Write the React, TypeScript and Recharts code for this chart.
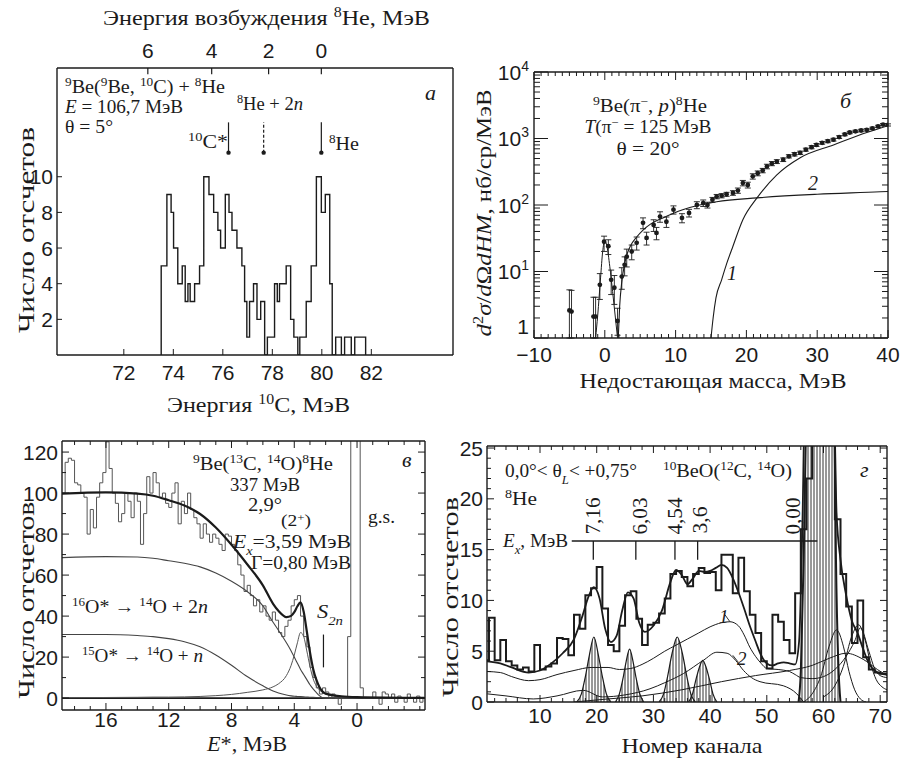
import React from "react";
import {
  ComposedChart,
  Line,
  Area,
  Scatter,
  XAxis,
  YAxis,
  ReferenceLine,
  ErrorBar,
  ReferenceDot,
} from "recharts";

// serif faces may be missing; Liberation Sans keeps widths close to Times
const SERIF = '"Liberation Serif", "Liberation Sans", Arial, sans-serif';
const SANS = '"Liberation Sans", Arial, "DejaVu Sans", sans-serif';
const INK = "#1b1b1b";
const PAGE_W = 900;
const PAGE_H = 762;

// ---------- panel а: 9Be(9Be,10C)8He ----------
const aEdges = [
  73.51, 73.74, 73.91, 74.01, 74.18, 74.36, 74.48, 74.59, 74.68, 74.86, 75.06,
  75.23, 75.44, 75.63, 75.8, 75.91, 76.1, 76.25, 76.37, 76.57, 76.77, 76.88,
  76.97, 77.08, 77.24, 77.38, 77.53, 77.69, 77.8, 78.09, 78.2, 78.29, 78.56,
  78.74, 78.87, 79.03, 79.11, 79.37, 79.57, 79.78, 79.98, 80.14, 80.32, 80.42,
  80.56, 80.79, 80.92, 81.19, 81.33, 81.77,
];
const aCounts = [
  5, 9, 8, 6, 4, 5, 3, 4, 3, 4, 5, 10, 9, 8, 7, 6, 9, 8, 7, 6, 5, 3, 1, 3, 4, 2,
  3, 0, 1, 4, 3, 4, 5, 2, 1, 0, 1, 3, 5, 10, 8, 9, 4, 0, 1, 0, 1, 0, 1, 0,
];
const aBottomTicks = [72, 74, 76, 78, 80, 82];
const aLeftTicks = [2, 4, 6, 8, 10];
// excitation-energy scale sits on the 10C energy scale
const aTopPos = [72.97, 75.55, 77.85, 79.98];
const aTopLabels = ["6", "4", "2", "0"];
const aMarkers = [
  { x: 76.23, dashed: false },
  { x: 77.65, dashed: true },
  { x: 79.98, dashed: false },
];

// ---------- panel б: 9Be(pi-,p)8He ----------
// x, y, lower error, upper error
const bPoints = [
  [-5.0, 2.6, 1.6, 2.7], [-4.7, 2.5, 1.5, 2.7], [-1.6, 2.1, 1.1, 2.0],
  [-1.3, 2.1, 1.1, 2.0], [-0.7, 6.3, 2.5, 3.0], [-0.1, 28, 8, 6],
  [0.5, 24, 6, 6], [0.9, 7.5, 3, 3], [1.35, 5.7, 2.5, 3], [1.8, 1.8, 0.7, 1.0],
  [2.4, 8.4, 3, 3], [2.8, 12.6, 4, 4], [3.1, 16.7, 5, 5], [3.8, 20, 5, 5],
  [4.5, 27, 6, 6], [5.4, 54, 10, 10], [5.9, 32, 7, 7], [6.9, 50, 10, 10],
  [7.3, 38, 8, 8], [7.8, 67, 12, 12], [8.7, 56, 10, 10], [9.7, 85, 12, 12],
  [10.9, 64, 10, 10], [11.9, 76, 10, 10], [13.0, 100, 12, 12],
  [13.9, 107, 12, 12], [14.5, 100, 10, 10], [15.2, 120, 10, 10],
  [15.8, 134, 10, 10], [16.5, 138, 10, 10], [17.2, 145, 10, 10],
  [18.1, 152, 12, 12], [18.8, 165, 15, 15], [19.5, 214, 20, 20],
  [20.2, 200, 20, 20], [20.9, 270, 25, 25], [21.6, 300, 25, 25],
  [22.3, 330, 25, 25], [22.9, 380, 30, 30], [23.6, 420, 30, 30],
  [24.3, 450, 30, 30], [25.2, 480, 30, 30], [26.0, 540, 30, 30],
  [26.8, 580, 35, 35], [27.6, 610, 35, 35], [28.4, 680, 35, 35],
  [29.2, 740, 40, 40], [29.9, 800, 40, 40], [30.7, 860, 40, 40],
  [31.5, 910, 45, 45], [32.3, 960, 45, 45], [33.1, 1050, 50, 50],
  [33.9, 1150, 50, 50], [34.6, 1230, 50, 50], [35.4, 1280, 50, 50],
  [36.2, 1320, 55, 55], [37.0, 1350, 55, 55], [37.8, 1420, 60, 60],
  [38.6, 1520, 60, 60], [39.3, 1620, 60, 60], [40.0, 1600, 60, 60],
];
const bPeakFit = [
  [-1.3, 1], [-1.0, 2.2], [-0.6, 8], [-0.3, 20], [0.0, 29], [0.3, 24],
  [0.7, 12], [1.1, 5], [1.5, 2], [1.8, 1],
];
const bCurve2 = [
  [1.9, 1], [2.1, 3], [2.4, 7], [2.8, 13], [3.2, 19], [3.6, 24], [4.5, 33],
  [5.4, 42], [6.5, 52], [8.2, 64], [11, 85], [13.4, 100], [15.8, 112],
  [21.5, 128], [30, 145], [38.9, 158], [40, 160],
];
const bCurve1 = [
  [15, 1], [15.3, 2], [15.7, 4], [16.5, 7.5], [17.2, 13], [18.1, 24],
  [19.5, 60], [21.5, 128], [24.3, 284], [27.6, 514], [32.3, 800], [37, 1230],
  [40, 1560],
];
const bDecades = [1, 10, 100, 1000, 10000];
const bMajorX = [-10, 0, 10, 20, 30, 40];

// ---------- panel в: 9Be(13C,14O)8He ----------
const cBinStart = 18.8;
const cBinWidth = 0.2;
const cCounts = [
  100, 115, 117, 116,
  105, 104, 100, 98, 80,
  92, 83, 98, 105, 110,
  125, 112, 100, 95, 86,
  90, 100, 96, 88, 100,
  96, 75, 90, 108, 100,
  110, 105, 98, 100, 95,
  93, 100, 105, 85, 96,
  90, 100, 92, 88, 85,
  78, 85, 80, 76, 80,
  78, 75, 72, 80, 79,
  75, 72, 65, 60, 52,
  55, 50, 45, 48, 42,
  45, 40, 38, 42, 38,
  32, 30, 35, 38, 45,
  48, 50, 40, 30, 25,
  15, 10, 5, 2, 5,
  3, 0, 2, 0, -3,
  0, 0, 30, 160, 160,
  160, 5, 0, 0, 0,
  3, 0, -3, 3, 2,
  0, 2, -2, 1, 0,
  -2, 2, 0, -2, 1, -2, 0,
];
const cGrid = [
  18.8, 16, 14, 13, 12, 11, 10, 9, 8, 7, 6, 5.35, 5, 4.5, 4.2, 4, 3.8, 3.6,
  3.4, 3.2, 3, 2.8, 2.6, 2.4, 2.2, 2, 1, 0, -4.3,
];
const cTwoN = [
  68.5, 69, 68.8, 68.2, 67, 65.8, 64, 61, 57, 52, 45, 37, 33, 27, 23, 20, 17,
  14, 11.5, 9, 6.5, 4.5, 2.8, 1.2, 0.2, 0, 0, 0, 0,
];
const cOneN = [
  31, 31, 30.5, 30, 29, 27.5, 25, 21, 16, 10.5, 6, 3.5, 2.5, 1.5, 1.1, 0.9, 0.8,
  0.7, 0.6, 0.5, 0.4, 0.35, 0.3, 0.25, 0.2, 0.2, 0.1, 0.1, 0,
];
const cState = [
  0.2, 0.3, 0.4, 0.5, 0.5, 0.6, 0.8, 1.2, 1.8, 2.8, 4, 5.5, 7, 11, 16, 21, 27,
  32, 30, 23, 15.5, 9.5, 6, 4, 2.8, 2, 0.8, 0.4, 0.1,
];
const cTotal = [
  99.7, 100.3, 99.7, 98.7, 96.5, 93.9, 89.8, 83.2, 74.8, 65.3, 55, 46, 42.5,
  39.5, 40.1, 41.9, 44.8, 46.7, 42.1, 32.5, 22.4, 14.35, 9.1, 5.45, 3.2, 2.2,
  0.9, 0.5, 0.1,
];
const cS2n = 2.14;
const cMajorX = [16, 12, 8, 4, 0];
const cMajorY = [0, 20, 40, 60, 80, 100, 120];

// ---------- panel г: 10BeO(12C,14O) ----------
const dCounts = [
  4.1, 8.3, 4.1, 6.1, 4.0, 3.6, 3.2, 3.4, 3.0, 5.6, 3.2, 3.5, 3.8, 6.3, 6.2,
  4.6, 8.6, 7.2, 10.5, 11.2, 13.3, 9.2, 5.6, 5.0, 7.5, 10.5, 10.9, 8.2, 5.6,
  7.6, 7.8, 8.7, 10.2, 12.6, 12.9, 12.3, 11.4, 12.6, 13.2, 12.7, 12.8, 11.0,
  14.5, 14.5, 10.7, 14.2, 10.9, 8.6, 6.8, 4.0, 3.3, 8.6, 7.9, 6.1, 4.8, 10.7,
  17, 22, 40, 40, 40, 40, 18, 12.6, 9.4, 5.8, 10, 4.4, 3.2, 2.9, 2.8,
];
const dTotal = [
  [0.7, 4.0], [3, 3.8], [5, 3.4], [8, 2.9], [10, 3.1], [12, 3.8], [14, 4.8],
  [16, 6.2], [17.5, 8.5], [18.5, 10.3], [19.5, 11.3], [20.5, 10.2],
  [21.5, 7.2], [22.5, 5.9], [23.5, 6.5], [24.5, 9], [25.5, 10.8],
  [26.5, 10.2], [27.5, 7.8], [28.5, 6.9], [30, 7.5], [31.5, 9], [33, 11.8],
  [34, 13], [35, 12.5], [36, 11.6], [37, 12.2], [38, 12.9], [39, 12.8],
  [40, 12.9], [41, 13.2], [42, 13.5], [43, 13.2], [44, 12.2], [45, 10.8],
  [46, 9.2], [47, 7.5], [48, 6], [49, 4.6], [50, 3.8], [51, 3.6], [52, 3.8],
  [53, 3.9], [54, 3.8], [55, 3.7], [55.7, 6], [56.3, 18], [56.8, 32],
  [61.8, 30], [62.3, 18.6], [63, 14], [64, 10.5], [65, 8], [66, 6.8],
  [67, 5.2], [68, 3.8], [69, 3.1], [70, 2.8], [71.2, 2.7],
];
const dCurve1 = [
  [0.7, 3.0], [3, 2.9], [5, 2.5], [8, 2.1], [10, 2.2], [13, 2.7], [16, 3.1],
  [19, 3.4], [22, 3.4], [24, 3.2], [26, 3.3], [28, 3.7], [30, 4.3], [32, 5.0],
  [34, 5.6], [36, 6.2], [38, 6.8], [40, 7.4], [42, 7.8], [43.5, 7.9],
  [45, 7.5], [46, 6.6], [47, 5.4], [48, 4.5], [49, 3.8], [50, 3.3], [52, 3.2],
  [54, 3.0], [55, 2.7], [56, 2.4], [58, 2.3], [60, 2.5], [62, 3.2], [64, 4.5],
  [65.5, 6], [66.5, 7.3], [68, 5], [69, 3.3], [70, 2.6], [71.2, 2.4],
];
const dCurve2 = [
  [0.7, 0.8], [4, 0.6], [8.8, 0.3], [13, 0.6], [17.6, 1.15], [21, 0.5],
  [25, 0.7], [29.4, 1.3], [32, 1.9], [35.3, 2.8], [38.8, 4.1], [41.2, 4.9],
  [43, 4.8], [44.5, 4.1], [45.9, 3.1], [47.3, 2.4], [48.8, 2.0], [52.9, 1.6],
  [55.3, 0.8], [56.5, 0],
];
const dBackground = [
  [16, 0], [22, 0.3], [28, 0.6], [35, 1.2], [42, 2.0], [48, 2.6], [54, 3.1],
  [58, 3.6], [61, 4.3], [64, 4.8], [67, 4.2], [69.5, 3.2], [71.2, 2.6],
];
const dRight1 = [
  [56.5, 0], [58, 0.8], [59.5, 2.5], [61, 5.5], [62.3, 7.1], [63.5, 5.5],
  [64.5, 3], [65.5, 1.2], [66.5, 0.3], [67.5, 0],
];
const dRight2 = [
  [60, 0.5], [62, 1.6], [63.5, 3.5], [65, 6.5], [66.2, 7.6], [67.3, 6.2],
  [68.3, 3.8], [69.3, 2.2], [70.3, 1.5], [71.2, 1.2],
];
const dStates = [
  [[16.5, 0], [17.3, 0.8], [18, 2.5], [18.7, 4.6], [19.5, 6.4], [20.3, 4.6], [21, 2.5], [21.7, 0.8], [22.5, 0]],
  [[23.3, 0], [24, 0.8], [24.7, 2.5], [25.2, 4], [25.8, 5.2], [26.4, 4], [26.9, 2.5], [27.6, 0.8], [28.3, 0]],
  [[31, 0], [31.8, 0.8], [32.5, 2.5], [33.3, 4.8], [34.2, 6.4], [35.1, 4.8], [35.9, 2.5], [36.6, 0.8], [37.4, 0]],
  [[36.2, 0], [36.9, 0.8], [37.5, 2.2], [38.1, 3.4], [38.7, 4.1], [39.3, 3.4], [39.9, 2.2], [40.5, 0.8], [41.2, 0]],
];
const dGround = [
  [55.6, 0], [56, 3], [56.5, 14], [57, 30], [58, 70], [59, 95], [59.8, 100],
  [60.6, 95], [61.3, 70], [61.8, 35], [62.2, 14], [62.6, 4], [63, 0],
];
// excitation-energy scale drawn across the spectrum
const dExLine = { from: 15.6, to: 58.9, level: 15.85, tickEnd: 14.0 };
const dExTicks = [19.4, 26.9, 33.8, 37.8];

// ---------- plot boxes (page pixels) ----------
const A_BOX = { left: 57, top: 68, right: 453, bottom: 355 };
const B_BOX = { left: 534, top: 72, right: 888, bottom: 338 };
const C_BOX = { left: 62, top: 441, right: 425, bottom: 710 };
const D_BOX = { left: 487, top: 446, right: 887, bottom: 702 };

// every axis is 1px thick, so the margins leave exactly the box for the plot
const boxMargin = (b: typeof A_BOX) => ({
  left: b.left - 1,
  top: b.top - 1,
  right: PAGE_W - b.right - 1,
  bottom: PAGE_H - b.bottom - 1,
});

const pts = (arr: number[][]) => arr.map(([x, y]) => ({ x, y }));
const range = (from: number, to: number, step: number) => {
  const out: number[] = [];
  for (let v = from; v <= to + 1e-9; v += step) out.push(Math.round(v * 1000) / 1000);
  return out;
};
const logTicks = () => {
  const out: number[] = [];
  for (let d = 0; d < 4; d++) for (let k = 1; k < 10; k++) out.push(k * 10 ** d);
  out.push(10000);
  return out;
};

type Side = "bottom" | "left";
interface TickSpec {
  side: Side;
  edge: number;
  mirror?: number; // opposite frame edge that gets the same tick
  major: number[];
  majorLen: number;
  minorLen: number;
  gap?: number;
  label?: (v: number) => React.ReactNode;
}

const sansStyle: React.CSSProperties = { fontFamily: SANS, fontSize: 21 };

// inward tick marks (also copied onto the opposite edge) with labels outside the frame
function frameTick(spec: TickSpec) {
  return (props: any) => {
    const v = props.payload?.value;
    const isMajor = spec.major.some((m) => Math.abs(m - v) < 1e-6);
    const len = isMajor ? spec.majorLen : spec.minorLen;
    const text = isMajor && spec.label ? spec.label(v) : null;
    const gap = spec.gap ?? 5;
    if (spec.side === "bottom") {
      const x = props.x;
      return (
        <g>
          <line x1={x} x2={x} y1={spec.edge} y2={spec.edge - len} stroke={INK} strokeWidth={1} />
          {spec.mirror != null && (
            <line x1={x} x2={x} y1={spec.mirror} y2={spec.mirror + len} stroke={INK} strokeWidth={1} />
          )}
          {text != null && (
            <text x={x} y={spec.edge + gap} textAnchor="middle" style={sansStyle} fill={INK}>
              {text}
            </text>
          )}
        </g>
      );
    }
    const y = props.y;
    return (
      <g>
        <line x1={spec.edge} x2={spec.edge + len} y1={y} y2={y} stroke={INK} strokeWidth={1} />
        {spec.mirror != null && (
          <line x1={spec.mirror} x2={spec.mirror - len} y1={y} y2={y} stroke={INK} strokeWidth={1} />
        )}
        {text != null && (
          <text x={spec.edge - gap} y={y} dy="0.36em" textAnchor="end" style={sansStyle} fill={INK}>
            {text}
          </text>
        )}
      </g>
    );
  };
}

const frameLine = { stroke: INK, strokeWidth: 1.4 };

function PanelA() {
  const hist = [{ x: aEdges[0], y: 0 }, ...aEdges.map((x, i) => ({ x, y: aCounts[i] }))];
  const dom: [number, number] = [69.3, 85.3];
  const ydom: [number, number] = [0, 16.1];
  return (
    <ComposedChart width={PAGE_W} height={PAGE_H} margin={boxMargin(A_BOX)}>
      <XAxis
        type="number" dataKey="x" domain={dom} allowDataOverflow height={1}
        ticks={aBottomTicks} interval={0} tickLine={false} axisLine={frameLine}
        tick={frameTick({ side: "bottom", edge: A_BOX.bottom, major: aBottomTicks, majorLen: 6, minorLen: 3, gap: 25, label: (v) => String(v) })}
      />
      <XAxis xAxisId="t" orientation="top" type="number" domain={dom} height={1} tick={false} tickLine={false} axisLine={frameLine} />
      <YAxis
        type="number" dataKey="y" domain={ydom} allowDataOverflow width={1}
        ticks={aLeftTicks} interval={0} tickLine={false} axisLine={frameLine}
        tick={frameTick({ side: "left", edge: A_BOX.left, major: aLeftTicks, majorLen: 5, minorLen: 3, gap: 4, label: (v) => String(v) })}
      />
      <YAxis yAxisId="r" orientation="right" type="number" domain={ydom} width={1} tick={false} tickLine={false} axisLine={frameLine} />
      <Line data={hist} dataKey="y" type="stepAfter" stroke={INK} strokeWidth={1.4} dot={false} isAnimationActive={false} />
      {/* excitation-energy scale along the top edge */}
      {aTopPos.map((p, i) => (
        <ReferenceLine
          key={"top" + p}
          segment={[{ x: p, y: 16.1 }, { x: p, y: 15.75 }]}
          stroke={INK}
          strokeWidth={1.2}
          label={{
            content: (lp: any) => {
              const vb = lp.viewBox || {};
              const cx = (vb.x ?? 0) + (vb.width ?? 0) / 2;
              return (
                <text x={cx} y={A_BOX.top - 10} textAnchor="middle" style={sansStyle} fill={INK}>
                  {aTopLabels[i]}
                </text>
              );
            },
          }}
        />
      ))}
      {aMarkers.map((m) => (
        <ReferenceLine
          key={m.x}
          segment={[{ x: m.x, y: 11.35 }, { x: m.x, y: 13.05 }]}
          stroke={INK}
          strokeWidth={1.2}
          strokeDasharray={m.dashed ? "3 2" : undefined}
        />
      ))}
      {aMarkers.map((m) => (
        <ReferenceDot key={"d" + m.x} x={m.x} y={11.35} r={2.2} fill={INK} stroke="none" />
      ))}
    </ComposedChart>
  );
}

function PanelB() {
  const data = bPoints.map(([x, y, lo, hi]) => ({ x, y, err: [lo, hi] }));
  const dom: [number, number] = [-10, 40];
  const ydom: [number, number] = [1, 10000];
  const xt = range(-10, 40, 1);
  const yt = logTicks();
  const decade = (v: number) =>
    v === 1 ? (
      <tspan dy={-4}>1</tspan>
    ) : (
      <>
        10<tspan dy={-9} fontSize={14}>{Math.round(Math.log10(v))}</tspan>
      </>
    );
  return (
    <ComposedChart width={PAGE_W} height={PAGE_H} margin={boxMargin(B_BOX)}>
      <XAxis
        type="number" dataKey="x" domain={dom} allowDataOverflow height={1}
        ticks={xt} interval={0} tickLine={false} axisLine={frameLine}
        tick={frameTick({ side: "bottom", edge: B_BOX.bottom, mirror: B_BOX.top, major: bMajorX, majorLen: 8, minorLen: 4, gap: 24, label: (v) => (v < 0 ? "\u2212" + Math.abs(v) : String(v)) })}
      />
      <XAxis xAxisId="t" orientation="top" type="number" domain={dom} height={1} tick={false} tickLine={false} axisLine={frameLine} />
      <YAxis
        type="number" dataKey="y" scale="log" domain={ydom} allowDataOverflow width={1}
        ticks={yt} interval={0} tickLine={false} axisLine={frameLine}
        tick={frameTick({ side: "left", edge: B_BOX.left, mirror: B_BOX.right, major: bDecades, majorLen: 14, minorLen: 6, gap: 5, label: decade })}
      />
      <YAxis yAxisId="r" orientation="right" type="number" scale="log" domain={ydom} width={1} tick={false} tickLine={false} axisLine={frameLine} />
      <Line data={pts(bPeakFit)} dataKey="y" type="monotone" stroke={INK} strokeWidth={1} dot={false} isAnimationActive={false} />
      <Line data={pts(bCurve2)} dataKey="y" type="monotone" stroke={INK} strokeWidth={1.1} dot={false} isAnimationActive={false} />
      <Line data={pts(bCurve1)} dataKey="y" type="monotone" stroke={INK} strokeWidth={1.1} dot={false} isAnimationActive={false} />
      <Scatter
        data={data}
        dataKey="y"
        isAnimationActive={false}
        shape={(p: any) => <circle cx={p.cx} cy={p.cy} r={2.4} fill={INK} />}
      >
        <ErrorBar dataKey="err" direction="y" width={3} stroke={INK} strokeWidth={0.9} isAnimationActive={false} />
      </Scatter>
    </ComposedChart>
  );
}

function PanelC() {
  const hist = cCounts.map((y, i) => ({ x: cBinStart - i * cBinWidth, y }));
  hist.push({ x: cBinStart - cCounts.length * cBinWidth, y: cCounts[cCounts.length - 1] });
  const curve = (vals: number[]) => cGrid.map((x, i) => ({ x, y: vals[i] }));
  const dom: [number, number] = [-4.33, 18.8];
  const ydom: [number, number] = [-5.8, 125.4];
  const xt = range(-4, 18, 1);
  const yt = range(0, 120, 10);
  return (
    <ComposedChart width={PAGE_W} height={PAGE_H} margin={boxMargin(C_BOX)}>
      <XAxis
        type="number" dataKey="x" domain={dom} reversed allowDataOverflow height={1}
        ticks={xt} interval={0} tickLine={false} axisLine={frameLine}
        tick={frameTick({ side: "bottom", edge: C_BOX.bottom, mirror: C_BOX.top, major: cMajorX, majorLen: 7, minorLen: 4, gap: 17, label: (v) => String(v) })}
      />
      <XAxis xAxisId="t" orientation="top" type="number" domain={dom} reversed height={1} tick={false} tickLine={false} axisLine={frameLine} />
      <YAxis
        type="number" dataKey="y" domain={ydom} allowDataOverflow width={1}
        ticks={yt} interval={0} tickLine={false} axisLine={frameLine}
        tick={frameTick({ side: "left", edge: C_BOX.left, mirror: C_BOX.right, major: cMajorY, majorLen: 7, minorLen: 4, gap: 4, label: (v) => String(v) })}
      />
      <YAxis yAxisId="r" orientation="right" type="number" domain={ydom} width={1} tick={false} tickLine={false} axisLine={frameLine} />
      <ReferenceLine y={0} stroke={INK} strokeWidth={1.6} />
      <Line data={hist} dataKey="y" type="stepAfter" stroke="#555" strokeWidth={1} dot={false} isAnimationActive={false} />
      <Line data={curve(cOneN)} dataKey="y" type="monotone" stroke="#444" strokeWidth={1.1} dot={false} isAnimationActive={false} />
      <Line data={curve(cTwoN)} dataKey="y" type="monotone" stroke="#444" strokeWidth={1.1} dot={false} isAnimationActive={false} />
      <Line data={curve(cState)} dataKey="y" type="monotone" stroke="#555" strokeWidth={1} dot={false} isAnimationActive={false} />
      <Line data={curve(cTotal)} dataKey="y" type="monotone" stroke={INK} strokeWidth={2.2} dot={false} isAnimationActive={false} />
      <ReferenceLine segment={[{ x: cS2n, y: 15 }, { x: cS2n, y: 31 }]} stroke={INK} strokeWidth={1.2} />
    </ComposedChart>
  );
}

function PanelD() {
  const hist = dCounts.map((y, i) => ({ x: i, y }));
  hist.push({ x: 71.2, y: dCounts[dCounts.length - 1] });
  const dom: [number, number] = [0.65, 71.2];
  const ydom: [number, number] = [0, 25.2];
  const xt = range(2, 70, 2);
  const yt = range(0, 25, 1);
  const majX = [10, 20, 30, 40, 50, 60, 70];
  const majY = [0, 5, 10, 15, 20, 25];
  const thin = (arr: number[][], key: string) => (
    <Line key={key} data={pts(arr)} dataKey="y" type="monotone" stroke={INK} strokeWidth={1} dot={false} isAnimationActive={false} />
  );
  return (
    <ComposedChart width={PAGE_W} height={PAGE_H} margin={boxMargin(D_BOX)}>
      <defs>
        <pattern id="gHatch" width="3" height="6" patternUnits="userSpaceOnUse">
          <line x1="1" y1="0" x2="1" y2="6" stroke={INK} strokeWidth="0.9" />
        </pattern>
      </defs>
      <XAxis
        type="number" dataKey="x" domain={dom} allowDataOverflow height={1}
        ticks={xt} interval={0} tickLine={false} axisLine={frameLine}
        tick={frameTick({ side: "bottom", edge: D_BOX.bottom, mirror: D_BOX.top, major: majX, majorLen: 7, minorLen: 4, gap: 21, label: (v) => String(v) })}
      />
      <XAxis xAxisId="t" orientation="top" type="number" domain={dom} height={1} tick={false} tickLine={false} axisLine={frameLine} />
      <YAxis
        type="number" dataKey="y" domain={ydom} allowDataOverflow width={1}
        ticks={yt} interval={0} tickLine={false} axisLine={frameLine}
        tick={frameTick({ side: "left", edge: D_BOX.left, mirror: D_BOX.right, major: majY, majorLen: 7, minorLen: 4, gap: 4, label: (v) => String(v) })}
      />
      <YAxis yAxisId="r" orientation="right" type="number" domain={ydom} width={1} tick={false} tickLine={false} axisLine={frameLine} />
      {dStates.map((s, i) => (
        <Area
          key={"s" + i}
          data={pts(s)}
          dataKey="y"
          type="monotone"
          stroke={INK}
          strokeWidth={1.2}
          fill="url(#gHatch)"
          fillOpacity={1}
          isAnimationActive={false}
        />
      ))}
      <Area data={pts(dGround)} dataKey="y" type="monotone" stroke={INK} strokeWidth={2} fill="url(#gHatch)" fillOpacity={1} isAnimationActive={false} />
      {thin(dCurve2, "c2")}
      {thin(dCurve1, "c1")}
      {thin(dBackground, "bg")}
      {thin(dRight1, "r1")}
      {thin(dRight2, "r2")}
      <Line data={pts(dTotal)} dataKey="y" type="monotone" stroke={INK} strokeWidth={1.8} dot={false} isAnimationActive={false} />
      <Line data={hist} dataKey="y" type="stepAfter" stroke={INK} strokeWidth={2} dot={false} isAnimationActive={false} />
      <ReferenceLine
        segment={[{ x: dExLine.from, y: dExLine.level }, { x: dExLine.to, y: dExLine.level }]}
        stroke={INK}
        strokeWidth={1.6}
      />
      {dExTicks.map((c) => (
        <ReferenceLine key={c} segment={[{ x: c, y: dExLine.level }, { x: c, y: dExLine.tickEnd }]} stroke={INK} strokeWidth={1.3} />
      ))}
      <ReferenceLine segment={[{ x: 43.5, y: 7.9 }, { x: 42.6, y: 8.6 }]} stroke={INK} strokeWidth={0.9} />
      <ReferenceLine segment={[{ x: 44.0, y: 4.6 }, { x: 45.0, y: 3.9 }]} stroke={INK} strokeWidth={0.9} />
    </ComposedChart>
  );
}

interface TxtProps {
  x: number;
  y: number;
  size?: number;
  anchor?: "start" | "middle" | "end";
  len?: number;
  italic?: boolean;
  family?: string;
  rotate?: number;
  children: React.ReactNode;
}

function Txt({ x, y, size = 18, anchor = "start", len, italic, family = SERIF, rotate, children }: TxtProps) {
  return (
    <text
      x={x}
      y={y}
      style={{ fontFamily: family, fontSize: size, fontStyle: italic ? "italic" : "normal" }}
      textAnchor={anchor}
      fill={INK}
      textLength={len}
      lengthAdjust={len ? "spacingAndGlyphs" : undefined}
      transform={rotate ? `rotate(${rotate} ${x} ${y})` : undefined}
    >
      {children}
    </text>
  );
}

const Sup = ({ children }: { children: React.ReactNode }) => (
  <tspan baselineShift="super" style={{ fontSize: "66%" }}>{children}</tspan>
);
const Sub = ({ children }: { children: React.ReactNode }) => (
  <tspan baselineShift="sub" style={{ fontSize: "66%" }}>{children}</tspan>
);
const It = ({ children }: { children: React.ReactNode }) => <tspan style={{ fontStyle: "italic" }}>{children}</tspan>;

function Labels() {
  return (
    <svg width={PAGE_W} height={PAGE_H} style={{ position: "absolute", left: 0, top: 0, pointerEvents: "none" }}>
      {/* а */}
      <Txt x={103} y={25} size={22} len={327}>Энергия возбуждения <Sup>8</Sup>He, МэВ</Txt>
      <Txt x={167} y={412} size={22} len={183}>Энергия <Sup>10</Sup>C, МэВ</Txt>
      <Txt x={34} y={230} size={24} anchor="middle" len={206} rotate={-90}>Число отсчетов</Txt>
      <Txt x={65} y={93} len={160}><Sup>9</Sup>Be(<Sup>9</Sup>Be, <Sup>10</Sup>C) + <Sup>8</Sup>He</Txt>
      <Txt x={65} y={113} len={118}><It>E</It> = 106,7 МэВ</Txt>
      <Txt x={65} y={133} len={48}>θ = 5°</Txt>
      <Txt x={425} y={100} size={22} italic>a</Txt>
      <Txt x={188} y={148} len={40}><Sup>10</Sup>C*</Txt>
      <Txt x={237} y={110} len={66}><Sup>8</Sup>He + 2<It>n</It></Txt>
      <Txt x={329} y={150} len={30}><Sup>8</Sup>He</Txt>

      {/* б */}
      <Txt x={650} y={112} anchor="middle" len={114}><Sup>9</Sup>Be(π<Sup>−</Sup>, <It>p</It>)<Sup>8</Sup>He</Txt>
      <Txt x={648} y={133} anchor="middle" len={127}><It>T</It>(π<Sup>−</Sup> = 125 МэВ</Txt>
      <Txt x={648} y={155} anchor="middle" len={63}>θ = 20°</Txt>
      <Txt x={840} y={108} size={22} italic>б</Txt>
      <Txt x={808} y={190} size={20} italic>2</Txt>
      <Txt x={727} y={280} size={20} italic>1</Txt>
      <Txt x={713} y={388} size={22} anchor="middle" len={267}>Недостающая масса, МэВ</Txt>
      <Txt x={491} y={213} size={22} anchor="middle" len={247} rotate={-90}>
        <It>d</It><Sup>2</Sup><It>σ</It>/<It>d</It>Ω<It>dHM</It>, нб/ср/МэВ
      </Txt>

      {/* в */}
      <Txt x={263} y={470} size={19} anchor="middle" len={140}><Sup>9</Sup>Be(<Sup>13</Sup>C, <Sup>14</Sup>O)<Sup>8</Sup>He</Txt>
      <Txt x={265} y={491} size={19} anchor="middle" len={70}>337 МэВ</Txt>
      <Txt x={265} y={511} size={19} anchor="middle" len={34}>2,9°</Txt>
      <Txt x={296} y={526} size={16} anchor="middle" len={30}>(2<Sup>+</Sup>)</Txt>
      <Txt x={233} y={548} size={19} len={118}><It>E</It><Sub><It>x</It></Sub>=3,59 МэВ</Txt>
      <Txt x={251} y={569} size={19} len={100}>Γ=0,80 МэВ</Txt>
      <Txt x={402} y={467} size={22} italic>в</Txt>
      <Txt x={368} y={523} size={18} len={27}>g.s.</Txt>
      <Txt x={317} y={618} size={19} len={26}><It>S</It><Sub><It>2n</It></Sub></Txt>
      <Txt x={72} y={613} size={19} len={136}><Sup>16</Sup>O* → <Sup>14</Sup>O + 2<It>n</It></Txt>
      <Txt x={82} y={662} size={19} len={121}><Sup>15</Sup>O* → <Sup>14</Sup>O + <It>n</It></Txt>
      <Txt x={207} y={751} size={22} len={80}><It>E</It>*, МэВ</Txt>
      <Txt x={34} y={600} size={24} anchor="middle" len={197} rotate={-90}>Число отсчетов</Txt>

      {/* г */}
      <Txt x={505} y={477} size={18} len={132}>0,0°&lt; θ<Sub><It>L</It></Sub>&lt; +0,75°</Txt>
      <Txt x={663} y={477} size={18} len={129}><Sup>10</Sup>BeO(<Sup>12</Sup>C, <Sup>14</Sup>O)</Txt>
      <Txt x={860} y={477} size={22} italic>г</Txt>
      <Txt x={505} y={505} size={18} len={32}><Sup>8</Sup>He</Txt>
      <Txt x={503} y={547} size={18} len={65}><It>E</It><Sub><It>x</It></Sub>, МэВ</Txt>
      <Txt x={600} y={516} size={20} anchor="middle" len={37} rotate={-90}>7,16</Txt>
      <Txt x={647} y={516} size={20} anchor="middle" len={37} rotate={-90}>6,03</Txt>
      <Txt x={682} y={516} size={20} anchor="middle" len={37} rotate={-90}>4,54</Txt>
      <Txt x={707} y={520} size={20} anchor="middle" len={27} rotate={-90}>3,6</Txt>
      <Txt x={800} y={516} size={20} anchor="middle" len={37} rotate={-90}>0,00</Txt>
      <Txt x={719} y={623} size={19} italic>1</Txt>
      <Txt x={737} y={665} size={19} italic>2</Txt>
      <Txt x={692} y={753} size={22} anchor="middle" len={141}>Номер канала</Txt>
      <Txt x={458} y={597} size={23} anchor="middle" len={200} rotate={-90}>Число отсчетов</Txt>
    </svg>
  );
}

export default function App() {
  const layer: React.CSSProperties = { position: "absolute", left: 0, top: 0 };
  return (
    <div style={{ position: "absolute", left: 0, top: 0, width: PAGE_W, height: PAGE_H, background: "#fff", overflow: "hidden" }}>
      <div style={layer}><PanelA /></div>
      <div style={layer}><PanelB /></div>
      <div style={layer}><PanelC /></div>
      <div style={layer}><PanelD /></div>
      <Labels />
    </div>
  );
}
